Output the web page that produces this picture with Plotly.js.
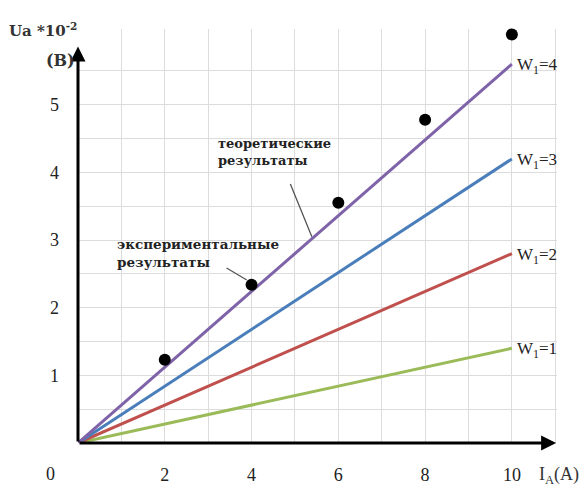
<!DOCTYPE html>
<html>
<head>
<meta charset="utf-8">
<script src="https://cdn.plot.ly/plotly-3.0.1.min.js"></script>
<style>html,body{margin:0;padding:0;background:#fff;}#chart{width:588px;height:486px;}</style>
</head>
<body>
<div id="chart"></div>
<script>
// Current I_A (A)
const current = [0, 2, 4, 6, 8, 10];
// Theoretical Ua*10^-2 (B) for each W1
const theoW1 = [0, 0.28, 0.56, 0.84, 1.12, 1.4];
const theoW2 = [0, 0.56, 1.12, 1.68, 2.24, 2.8];
const theoW3 = [0, 0.84, 1.68, 2.52, 3.36, 4.2];
const theoW4 = [0, 1.12, 2.24, 3.36, 4.48, 5.6];
// Experimental points
const expCurrent = [2, 4, 6, 8, 10];
const expValues = [1.23, 2.34, 3.55, 4.78, 6.04];
// Labels
const seriesNames = ["W<sub>1</sub>=1", "W<sub>1</sub>=2", "W<sub>1</sub>=3", "W<sub>1</sub>=4"];
const xTickVals = [2, 4, 6, 8, 10];
const xTickText = ["2", "4", "6", "8", "10"];
const yTickVals = [1, 2, 3, 4, 5];
const yTickText = ["1", "2", "3", "4", "5"];

const colors = ["#9bbb59", "#c0504d", "#4a7ebb", "#7f63a8"];
const theo = [theoW1, theoW2, theoW3, theoW4];
const serif = "Liberation Serif";
const serifB = "DejaVu Serif";
const gridCol = "#dcdcdc";

const traces = theo.map((ys, i) => ({
  x: current, y: ys, mode: "lines", type: "scatter",
  line: {color: colors[i], width: 3}, hoverinfo: "skip", cliponaxis: false
}));
traces.push({
  x: expCurrent, y: expValues, mode: "markers", type: "scatter",
  marker: {color: "#000", size: 12}, cliponaxis: false
});

const annotations = [];
// axes with arrows
annotations.push({x: 11.02, y: 0, ax: 0, ay: 0, xref: "x", yref: "y", axref: "x", ayref: "y",
  text: "", showarrow: true, arrowhead: 2, arrowsize: 1, arrowwidth: 3, arrowcolor: "#000"});
annotations.push({x: 0, y: 5.86, ax: 0, ay: 0, xref: "x", yref: "y", axref: "x", ayref: "y",
  text: "", showarrow: true, arrowhead: 2, arrowsize: 1, arrowwidth: 3, arrowcolor: "#000"});
// series labels
theo.forEach((ys, i) => {
  annotations.push({x: current[current.length - 1], y: ys[ys.length - 1], xref: "x", yref: "y",
    text: seriesNames[i], showarrow: false, xanchor: "left", yanchor: "middle", xshift: 3, yshift: -2,
    font: {family: serif, size: 17, color: "#222"}});
});
// callouts
annotations.push({x: 4.52, y: 4.30, xref: "x", yref: "y", text: "<b>теоретические<br>результаты</b>",
  showarrow: false, align: "left", font: {family: serifB, size: 13, color: "#222"}});
annotations.push({x: 5.39, y: 3.05, ax: 4.88, ay: 3.85, xref: "x", yref: "y", axref: "x", ayref: "y",
  text: "", showarrow: true, arrowhead: 0, arrowwidth: 1.3, arrowcolor: "#555"});
annotations.push({x: 2.77, y: 2.81, xref: "x", yref: "y", text: "<b>экспериментальные<br>результаты</b>",
  showarrow: false, align: "left", font: {family: serifB, size: 13.5, color: "#222"}});
annotations.push({x: 3.89, y: 2.41, ax: 3.39, ay: 2.60, xref: "x", yref: "y", axref: "x", ayref: "y",
  text: "", showarrow: true, arrowhead: 0, arrowwidth: 1.3, arrowcolor: "#555"});
// axis titles
annotations.push({xref: "paper", yref: "paper", x: -0.148, y: 0.998, xanchor: "left", yanchor: "middle",
  text: "<b>Ua *10<sup>-2</sup></b>", showarrow: false, font: {family: serifB, size: 15, color: "#333"}});
annotations.push({xref: "paper", yref: "paper", x: -0.071, y: 0.925, xanchor: "left", yanchor: "middle",
  text: "<b>(B)</b>", showarrow: false, font: {family: serifB, size: 16, color: "#333"}});
annotations.push({x: 0, y: 0, xref: "x", yref: "y", text: "0", showarrow: false,
  xshift: -28, yshift: -31, font: {family: serif, size: 18, color: "#222"}});
annotations.push({x: 11, y: 0, xref: "x", yref: "y", text: "I<sub>A</sub>(A)", showarrow: false,
  xanchor: "left", xshift: -18, yshift: -32, font: {family: serif, size: 18, color: "#333"}});

const layout = {
  width: 588, height: 486,
  margin: {l: 78, r: 31, t: 29, b: 43},
  paper_bgcolor: "#fff", plot_bgcolor: "#fff",
  showlegend: false,
  xaxis: {range: [0, 11.04], tickmode: "array", tickvals: xTickVals, ticktext: xTickText, showgrid: true,
    gridcolor: gridCol, gridwidth: 1, zeroline: false, showline: false, ticks: "",
    minor: {tickmode: "linear", tick0: 0, dtick: 1, showgrid: true, gridcolor: gridCol, gridwidth: 1, ticks: ""},
    ticklabelstandoff: 19, tickfont: {family: serif, size: 18, color: "#222"}, fixedrange: true},
  yaxis: {range: [0, 6.12], tickmode: "array", tickvals: yTickVals, ticktext: yTickText, showgrid: true,
    gridcolor: gridCol, gridwidth: 1, zeroline: false, showline: false, ticks: "",
    minor: {tickmode: "linear", tick0: 0.5, dtick: 1, showgrid: true, gridcolor: gridCol, gridwidth: 1, ticks: ""},
    ticklabelstandoff: 18, tickfont: {family: serif, size: 18, color: "#222"}, fixedrange: true},
  annotations: annotations
};

Plotly.newPlot("chart", traces, layout, {displayModeBar: false, staticPlot: true});
</script>
</body>
</html>
